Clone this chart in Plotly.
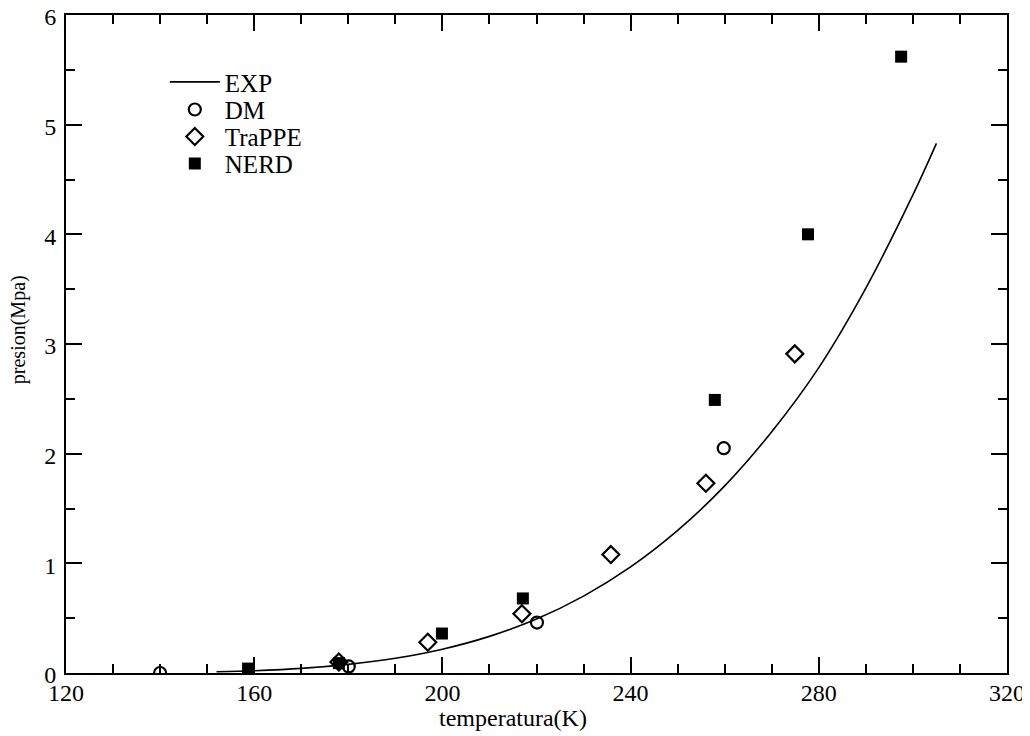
import plotly.graph_objects as go

# EXP curve
exp_T = [152, 160, 170, 180, 190, 200, 210, 220, 230, 240, 250, 260, 270, 280, 290, 300, 305]
exp_P = [0.011, 0.021, 0.042, 0.079, 0.134, 0.217, 0.334, 0.492, 0.701, 0.967, 1.30, 1.706, 2.20, 2.785, 3.51, 4.36, 4.83]

dm_T = [140.0, 180.1, 220.1, 259.8]
dm_P = [0.0, 0.06, 0.46, 2.05]

trappe_T = [178.0, 196.9, 216.9, 235.8, 256.0, 274.9]
trappe_P = [0.10, 0.28, 0.54, 1.08, 1.73, 2.91]

nerd_T = [158.7, 178.0, 199.9, 217.1, 257.9, 277.7, 297.5]
nerd_P = [0.04, 0.09, 0.36, 0.68, 2.49, 4.00, 5.62]

x_title = "temperatura(K)"
y_title = "presion(Mpa)"

FONT = "Liberation Serif"

fig = go.Figure()
fig.add_trace(go.Scatter(x=exp_T, y=exp_P, mode="lines", name="EXP", legend="legend",
                         showlegend=True,
                         line=dict(color="black", width=1.6, shape="spline")))
fig.add_trace(go.Scatter(x=dm_T, y=dm_P, mode="markers", name="DM", legend="legend2",
                         showlegend=True,
                         marker=dict(symbol="circle-open", size=12, color="black",
                                     line=dict(width=2.2, color="black"))))
fig.add_trace(go.Scatter(x=trappe_T, y=trappe_P, mode="markers", name="TraPPE", legend="legend3",
                         showlegend=True,
                         marker=dict(symbol="diamond-open", size=13, color="black",
                                     line=dict(width=2.2, color="black"))))
fig.add_trace(go.Scatter(x=nerd_T, y=nerd_P, mode="markers", name="NERD", legend="legend4",
                         showlegend=True,
                         marker=dict(symbol="square", size=12, color="black",
                                     line=dict(width=0))))

axis_common = dict(
    showline=True, linecolor="black", linewidth=2, mirror="ticks",
    ticks="inside", ticklen=16, tickwidth=2, tickcolor="black",
    showgrid=False, zeroline=False, automargin=False,
    ticklabeloverflow="allow",
    tickfont=dict(family=FONT, size=24, color="black"),
)

fig.update_xaxes(range=[120, 320], tick0=120, dtick=40, ticklabelstandoff=-3,
                 minor=dict(dtick=10, ticks="inside", ticklen=9, tickwidth=2, tickcolor="black", showgrid=False),
                 **axis_common)
fig.update_yaxes(range=[0, 6], tick0=0, dtick=1, ticklabelstandoff=3, ticklabelshift=2,
                 minor=dict(dtick=0.5, ticks="inside", ticklen=9, tickwidth=2, tickcolor="black", showgrid=False),
                 **axis_common)

fig.add_annotation(text=x_title, xref="paper", yref="paper", x=0.475, y=-0.0684,
                   xanchor="center", yanchor="middle", showarrow=False,
                   font=dict(family=FONT, size=24, color="black"))
fig.add_annotation(text=y_title, xref="paper", yref="paper", x=-0.051, y=0.521,
                   xanchor="center", yanchor="middle", showarrow=False, textangle=-90,
                   font=dict(family=FONT, size=20, color="black"))

leg_common = dict(x=0.105, xanchor="left", yanchor="middle",
                  bgcolor="rgba(0,0,0,0)", borderwidth=0,
                  font=dict(family=FONT, size=25, color="black"),
                  itemwidth=50, tracegroupgap=0, visible=True)

# page body adds an 8px margin; figure is sized to fit the 1030x736 window
fig.update_layout(
    width=1022, height=728,
    margin=dict(l=58, r=23, t=7, b=63, autoexpand=False),
    plot_bgcolor="white", paper_bgcolor="white",
    font=dict(family=FONT, color="black"),
    showlegend=True,
    legend=dict(y=0.898, **leg_common),
    legend2=dict(y=0.856, **leg_common),
    legend3=dict(y=0.815, **leg_common),
    legend4=dict(y=0.774, **leg_common),
)

fig.write_html("out.html")
